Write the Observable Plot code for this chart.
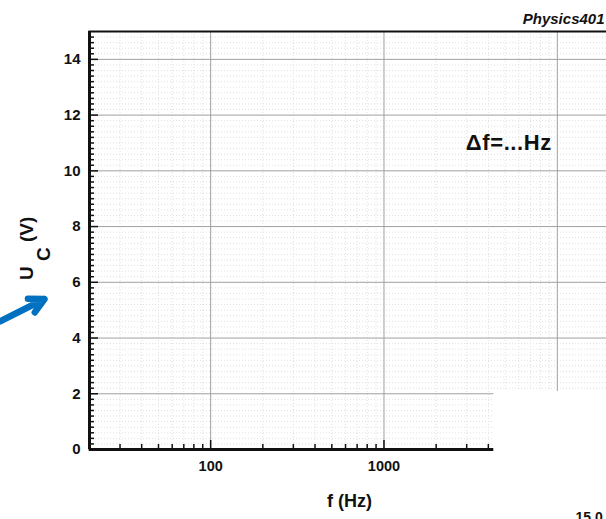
<!DOCTYPE html>
<html><head><meta charset="utf-8">
<script src="https://cdn.jsdelivr.net/npm/d3@7"></script>
<script src="https://cdn.jsdelivr.net/npm/@observablehq/plot@0.6"></script>
<style>
body{margin:0;background:#fff;}
#wrap{width:606px;height:519px;overflow:hidden;position:relative;}
#wrap svg{max-width:none !important;}
</style></head><body><div id="wrap"></div>
<script>
// axis domains
const xDomain = [20, 20000];
const yDomain = [0, 15];
// ticks and grid positions
const xMajorGrid = [100, 1000, 10000];
const xTickLabels = [100, 1000];
const xMinor = [30,40,50,60,70,80,90,200,300,400,500,600,700,800,900,2000,3000,4000,5000,6000,7000,8000,9000];
const yMajorGrid = [2,4,6,8,10,12,14];
const yTickLabels = [0,2,4,6,8,10,12,14];
const yMinor = d3.range(1, 75).map(i => Math.round(i * 2) / 10).filter(v => v % 2 !== 0);
// annotations
const deltaNote = [{x: 9300, y: 11, text: "Δf=...Hz"}];
const cornerNote = [{x: 12730, y: -2.45, text: "15.0"}];
const coverBox = [{x1: 4300, x2: 40000, y1: -4, y2: 2.08}];
const pointer = [{x1: 6.1, y1: 4.6, x2: 11.0, y2: 5.4}];

const W = 620, H = 519;
const frameW = W - 89 - 11, frameH = H - 31 - 70;
const font = "'Liberation Sans', Arial, sans-serif";

const svg = Plot.plot({
  width: W, height: H,
  marginLeft: 89, marginRight: 11, marginTop: 31, marginBottom: 70,
  style: {fontFamily: font, background: "#fff", overflow: "visible"},
  x: {type: "log", domain: xDomain},
  y: {domain: yDomain},
  marks: [
    Plot.ruleY(yMinor, {stroke: "#e0e0e0", strokeDasharray: "1,2"}),
    Plot.ruleX(xMinor, {stroke: "#e0e0e0", strokeDasharray: "1,2"}),
    Plot.ruleY(yMajorGrid, {stroke: "#a0a0a0", strokeWidth: 1}),
    Plot.ruleX(xMajorGrid, {stroke: "#a0a0a0", strokeWidth: 1}),
    Plot.frame({stroke: "#111", strokeWidth: 2}),
    Plot.ruleX([xDomain[0]], {stroke: "#111", strokeWidth: 3}),
    Plot.ruleY([yDomain[0]], {stroke: "#111", strokeWidth: 3}),
    Plot.tickY(yMinor, {y: d => d, stroke: "#111", strokeWidth: 1.5, insetRight: frameW - 5}),
    Plot.tickY(yMajorGrid, {y: d => d, stroke: "#111", strokeWidth: 1.5, insetRight: frameW - 9}),
    Plot.tickX(xMinor, {x: d => d, stroke: "#111", strokeWidth: 1.5, insetTop: frameH - 5}),
    Plot.tickX(xTickLabels, {x: d => d, stroke: "#111", strokeWidth: 1.5, insetTop: frameH - 9}),
    Plot.axisX(xTickLabels, {tickSize: 0, tickPadding: 11, fontSize: 14.5, fontWeight: "bold", fill: "#111", tickFormat: d => String(d), label: null}),
    Plot.axisY(yTickLabels, {tickSize: 0, tickPadding: 9, fontSize: 15, fontWeight: "bold", fill: "#111", tickFormat: d => String(d), label: null}),
    Plot.text(deltaNote, {x: "x", y: "y", text: "text", textAnchor: "end", fontSize: 22, fontWeight: "bold", fill: "#111"}),
    Plot.text(["Physics401"], {frameAnchor: "top-right", dx: -5, dy: -18, fontSize: 15, fontWeight: "bold", fontStyle: "italic", fill: "#111", textAnchor: "end"}),
    Plot.text(["f (Hz)"], {frameAnchor: "bottom", dy: 57, fontSize: 18, fontWeight: "bold", fill: "#111"}),
    Plot.rect(coverBox, {x1: "x1", x2: "x2", y1: "y1", y2: "y2", fill: "#fff"}),
    Plot.text(cornerNote, {x: "x", y: "y", text: "text", textAnchor: "start", fontSize: 14, fontWeight: "bold", fill: "#111"}),
    Plot.arrow(pointer, {x1: "x1", y1: "y1", x2: "x2", y2: "y2", stroke: "#0070C0", strokeWidth: 6.5, headLength: 17, headAngle: 55, strokeLinecap: "round"})
  ]
});
svg.style.maxWidth = "none";
svg.style.height = H + "px";

// widen the Δf note slightly, as in the reference
d3.select(svg).selectAll("text").filter(function() { return this.textContent === "Δf=...Hz"; })
  .style("letter-spacing", "0.6px");

// y-axis title with subscript
const t = d3.select(svg).append("text")
  .attr("transform", "rotate(-90)")
  .attr("text-anchor", "start")
  .attr("font-family", font)
  .attr("font-size", 19)
  .attr("font-weight", "bold")
  .attr("fill", "#111");
t.append("tspan").attr("x", -280).attr("y", 33).text("U");
t.append("tspan").attr("x", -261).attr("y", 50).text("C");
t.append("tspan").attr("x", -242).attr("y", 33).text("(V)");

document.getElementById("wrap").appendChild(svg);
</script></body></html>
